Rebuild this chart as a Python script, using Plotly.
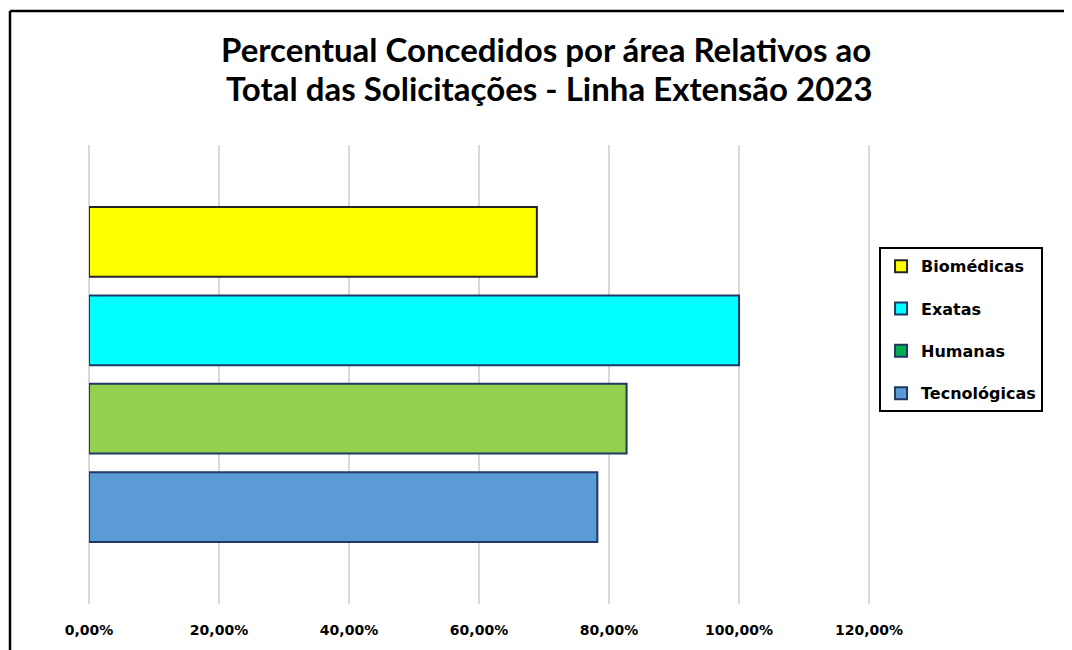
import plotly.graph_objects as go

# data
series = ['Biomédicas', 'Exatas', 'Humanas', 'Tecnológicas']
values = [0.689, 1.0, 0.827, 0.782]
bar_colors = ['#FFFF00', '#00FFFF', '#92D050', '#5B9BD5']
legend_colors = ['#FFFF00', '#00FFFF', '#00B050', '#5B9BD5']
edge_colors = ['#262626', '#1F3864', '#1F3864', '#1F3864']
category = ['2023']
x_ticks = [0, 0.2, 0.4, 0.6, 0.8, 1.0, 1.2]
title_lines = ['Percentual Concedidos por área Relativos ao',
               ' Total das Solicitações - Linha Extensão 2023']

# page body has an 8px margin, so screen targets are shifted by OFF
OFF = 8
W, H = 1072 - OFF, 650 - OFF
X_MAX = 1.203
L, T, B = 89 - OFF, 145 - OFF, 607 - OFF
R = L + 780 * X_MAX / 1.2


def px_x(p):
    return (p - OFF - L) / (R - L)


def px_y(p):
    return (B - (p - OFF)) / (B - T)


fig = go.Figure()

for i, name in enumerate(series):
    same = bar_colors[i] == legend_colors[i]
    fig.add_trace(go.Bar(
        y=category, x=[values[i]], orientation='h', name=name,
        offsetgroup=name, legendgroup=name, legendrank=i + 1,
        marker=dict(color=bar_colors[i], line=dict(color=edge_colors[i], width=2)),
        showlegend=same, hoverinfo='x+name',
    ))
    if not same:
        # legend swatch differs from the bar colour
        fig.add_trace(go.Bar(
            y=category, x=[None], orientation='h', name=name,
            offsetgroup=name, legendgroup=name, legendrank=i + 1,
            marker=dict(color=legend_colors[i], line=dict(color=edge_colors[i], width=2)),
            showlegend=True, hoverinfo='skip',
        ))

# outer chart frame: only the left and top edges show in the crop
frame = dict(type='line', xref='paper', yref='paper',
             line=dict(color='black', width=2.5), layer='above')
fig.add_shape(x0=px_x(10), x1=px_x(10), y0=px_y(700), y1=px_y(10), **frame)
fig.add_shape(x0=px_x(10), x1=px_x(1100), y0=px_y(10), y1=px_y(10), **frame)

for line, yc in zip(title_lines, [48, 88]):
    fig.add_annotation(
        text='<b>' + line + '</b>', xref='paper', yref='paper',
        x=px_x(546), y=px_y(yc), xanchor='center', yanchor='middle',
        showarrow=False, font=dict(family='Lato', size=33, color='black'),
    )

fig.update_layout(
    width=W, height=H,
    paper_bgcolor='white', plot_bgcolor='white',
    font=dict(family='DejaVu Sans', color='black'),
    separators=',.',
    margin=dict(l=L, r=W - R, t=T, b=H - B),
    barmode='group', bargap=0.23, bargroupgap=0.21,
    legend=dict(
        x=px_x(879), y=px_y(248), xanchor='left', yanchor='top',
        bordercolor='black', borderwidth=2, bgcolor='white',
        font=dict(family='DejaVu Sans', size=16, color='black', weight='bold'),
        tracegroupgap=18.5, traceorder='grouped',
    ),
    showlegend=True,
)

fig.update_xaxes(
    range=[0, X_MAX], tickvals=x_ticks, tickformat='.2%',
    showgrid=True, gridcolor='#D9D9D9', gridwidth=2,
    zeroline=True, zerolinecolor='#D9D9D9', zerolinewidth=2,
    showline=False, ticks='',
    ticklabelstandoff=16,
    tickfont=dict(family='DejaVu Sans', size=14, color='black', weight='bold'),
)
fig.update_yaxes(
    range=[0.5, -0.5], showticklabels=False, showgrid=False,
    zeroline=False, showline=False, ticks='',
)

fig.write_html('out.html')
